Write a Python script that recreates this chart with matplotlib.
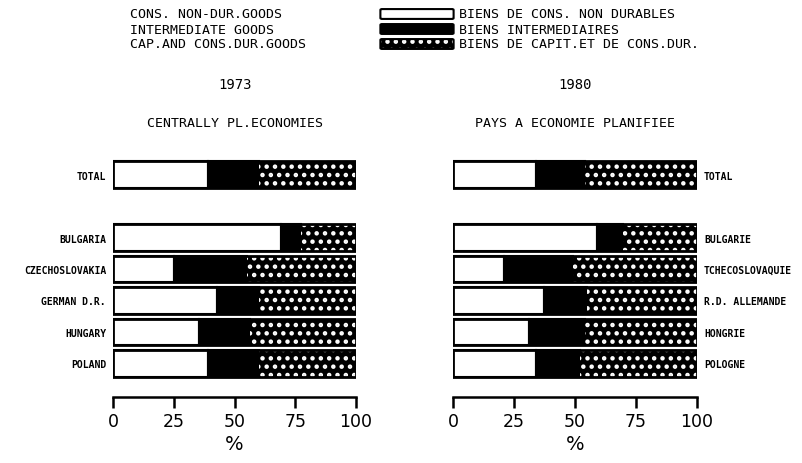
import numpy as np
import matplotlib
matplotlib.use("Agg")
import matplotlib.pyplot as plt
from matplotlib.patches import FancyBboxPatch

# categories (top to bottom)
labels_en = ["TOTAL", "BULGARIA", "CZECHOSLOVAKIA", "GERMAN D.R.", "HUNGARY", "POLAND"]
labels_fr = ["TOTAL", "BULGARIE", "TCHECOSLOVAQUIE", "R.D. ALLEMANDE", "HONGRIE", "POLOGNE"]
positions = [0, 2, 3, 4, 5, 6]

# shares in % : consumer non-durable, intermediate, capital & consumer durable
nondur_1973 = [39, 69, 25, 43, 35.5, 39]
inter_1973 = [21, 8.5, 30, 17, 21, 21]
capdur_1973 = [40, 22.5, 45, 40, 43.5, 40]

nondur_1980 = [34, 59, 21, 37.5, 31, 34]
inter_1980 = [20, 10.5, 28, 17.5, 23, 18]
capdur_1980 = [46, 30.5, 51, 45, 46, 48]

legend_en = ["CONS. NON-DUR.GOODS", "INTERMEDIATE GOODS", "CAP.AND CONS.DUR.GOODS"]
legend_fr = ["BIENS DE CONS. NON DURABLES", "BIENS INTERMEDIAIRES", "BIENS DE CAPIT.ET DE CONS.DUR."]

FONT = "DejaVu Sans Mono"
plt.rcParams["font.family"] = FONT
plt.rcParams["hatch.linewidth"] = 2.0

fig = plt.figure(figsize=(8.02, 4.64), dpi=100)
W, H = 802, 464


def draw_panel(ax, nondur, inter, capdur, labels, right=False):
    nondur = np.array(nondur)
    inter = np.array(inter)
    capdur = np.array(capdur)
    h = 0.85
    ax.barh(positions, nondur, height=h, color="white", edgecolor="black", linewidth=1.5)
    ax.barh(positions, inter, left=nondur, height=h, color="black", edgecolor="black", linewidth=1.5)
    ax.barh(positions, capdur, left=nondur + inter, height=h, color="black",
            hatch="..", edgecolor="white", linewidth=0)
    ax.barh(positions, nondur + inter + capdur, height=h, fill=False,
            edgecolor="black", linewidth=2)
    ax.set_xlim(0, 100)
    ax.set_ylim(7.07, -0.5)
    for s in ["top", "left", "right"]:
        ax.spines[s].set_visible(False)
    ax.spines["bottom"].set_linewidth(1.8)
    ax.set_xticks([0, 25, 50, 75, 100])
    ax.tick_params(axis="x", direction="out", length=8, width=1.8, pad=3)
    for t in ax.get_xticklabels():
        t.set_family("DejaVu Sans")
        t.set_fontsize(12.5)
    ax.set_yticks(positions)
    ax.set_yticklabels(labels, fontsize=7, fontweight="bold")
    if right:
        ax.yaxis.tick_right()
    ax.tick_params(axis="y", length=0, pad=5)
    ax.set_xlabel("%", fontsize=14, labelpad=3, family="DejaVu Sans")


ax1 = fig.add_axes([113 / W, (H - 398) / H, 243 / W, 238 / H])
ax2 = fig.add_axes([453 / W, (H - 398) / H, 244 / W, 238 / H])
draw_panel(ax1, nondur_1973, inter_1973, capdur_1973, labels_en)
draw_panel(ax2, nondur_1980, inter_1980, capdur_1980, labels_fr, right=True)

# titles
fig.text(235 / W, 1 - 85 / H, "1973", ha="center", va="center", fontsize=10)
fig.text(575 / W, 1 - 85 / H, "1980", ha="center", va="center", fontsize=10)
fig.text(235 / W, 1 - 124 / H, "CENTRALLY PL.ECONOMIES", ha="center", va="center", fontsize=9.5)
fig.text(575 / W, 1 - 124 / H, "PAYS A ECONOMIE PLANIFIEE", ha="center", va="center", fontsize=9.5)

# legend
styles = [dict(facecolor="white", edgecolor="black", linewidth=1.5),
          dict(facecolor="black", edgecolor="black", linewidth=1.5),
          dict(facecolor="black", edgecolor="white", hatch="..", linewidth=0)]
for i, (en, fr, st) in enumerate(zip(legend_en, legend_fr, styles)):
    y = 15 + 15 * i
    fig.text(130 / W, 1 - y / H, en, ha="left", va="center", fontsize=9.5)
    fig.text(459 / W, 1 - y / H, fr, ha="left", va="center", fontsize=9.5)
    p = FancyBboxPatch((382 / W, 1 - (y + 4) / H), 70 / W, 8 / H,
                       boxstyle="round,pad=0.002", transform=fig.transFigure, **st)
    fig.patches.append(p)
    if i == 2:
        fig.patches.append(FancyBboxPatch((382 / W, 1 - (y + 4) / H), 70 / W, 8 / H,
                                          boxstyle="round,pad=0.002", transform=fig.transFigure,
                                          fill=False, edgecolor="black", linewidth=1.5))

fig.savefig("out.png", dpi=100)
